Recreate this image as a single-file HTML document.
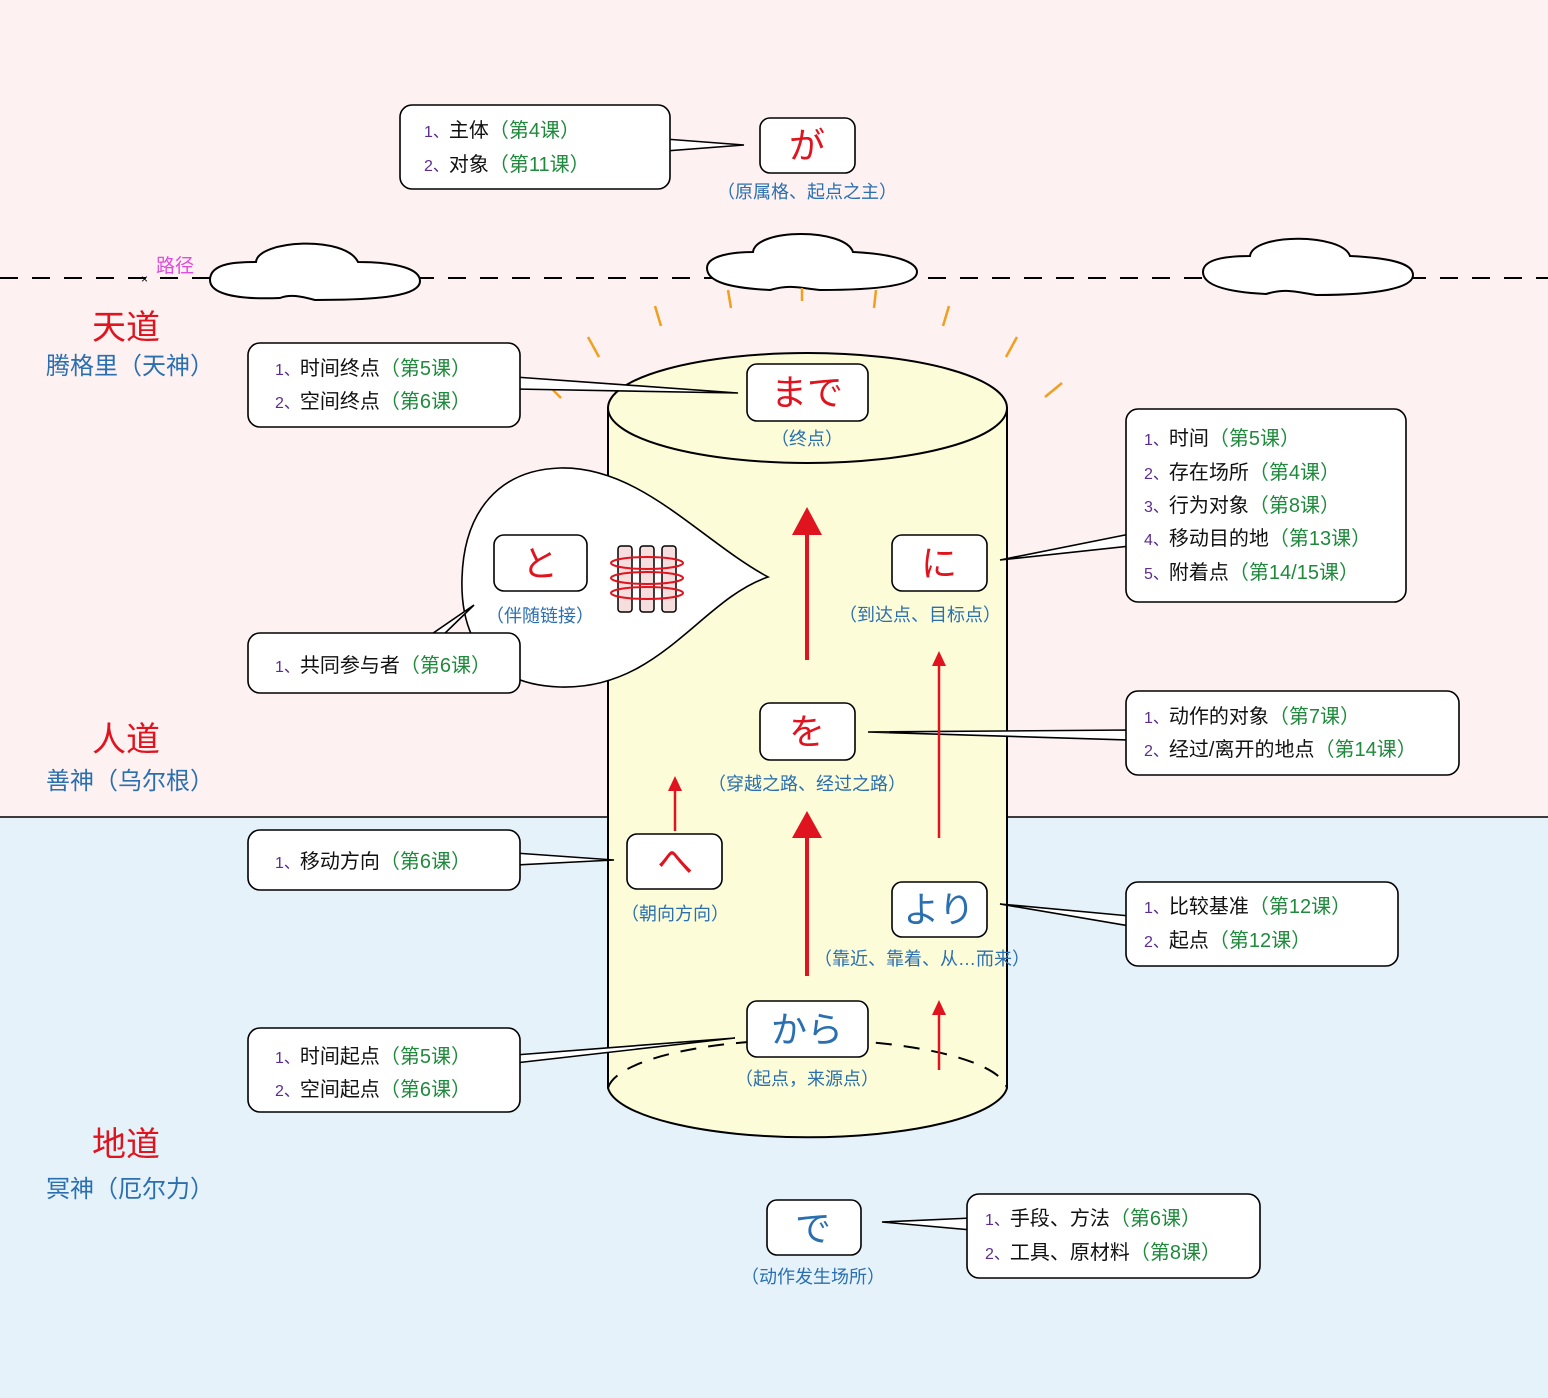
<!DOCTYPE html>
<html><head><meta charset="utf-8"><style>
html,body{margin:0;padding:0;}
svg{display:block;}
text{font-family:"Liberation Sans","Noto Sans CJK SC",sans-serif;}
.n{fill:#5b2d8e;font-size:16px}
.t{fill:#111;font-size:20px}
.g{fill:#1f8a3c;font-size:20px}
.lb{fill:#2a6fb0;font-size:18px}
.box{fill:#fff;stroke:#000;stroke-width:1.6}
</style></head><body>
<svg width="1548" height="1398" viewBox="0 0 1548 1398" xmlns="http://www.w3.org/2000/svg">
<rect x="0" y="0" width="1548" height="817" fill="#fdf1f1"/>
<rect x="0" y="817" width="1548" height="581" fill="#e5f2fa"/>
<line x1="0" y1="817" x2="1548" y2="817" stroke="#000" stroke-width="1.5"/>
<!-- dashed path -->
<line x1="0" y1="278" x2="1548" y2="278" stroke="#000" stroke-width="2" stroke-dasharray="18,14"/>
<text x="141" y="283" font-size="12" fill="#000">×</text>
<text x="156" y="272" font-size="19" fill="#e04ce0">路径</text>
<!-- clouds -->
<g fill="#fff" stroke="#000" stroke-width="2">
<path d="M210,280 C210,262 240,262 256,262 C258,240 345,235 358,262 C400,262 420,270 420,281 C420,296 380,300 315,300 C300,296 290,294 280,298 C230,300 210,292 210,280Z"/>
<path d="M707,268 C707,255 735,252 753,252 C756,228 845,228 853,252 C895,254 917,262 917,272 C917,285 880,290 820,290 C800,288 790,284 770,290 C730,288 707,282 707,268Z"/>
<path d="M1203,272 C1203,258 1230,256 1250,256 C1253,233 1342,233 1350,256 C1393,258 1413,264 1413,275 C1413,288 1378,295 1316,295 C1296,292 1286,288 1266,294 C1226,292 1203,285 1203,272Z"/>
</g>
<!-- rays -->
<g stroke="#f0a020" stroke-width="2.5">
<line x1="553" y1="390" x2="561" y2="398"/>
<line x1="588" y1="337" x2="599" y2="357"/>
<line x1="655" y1="306" x2="661" y2="326"/>
<line x1="728" y1="290" x2="731" y2="308"/>
<line x1="802" y1="288" x2="802" y2="301"/>
<line x1="876" y1="290" x2="874" y2="308"/>
<line x1="949" y1="306" x2="943" y2="326"/>
<line x1="1017" y1="337" x2="1006" y2="357"/>
<line x1="1062" y1="383" x2="1045" y2="397"/>
</g>
<!-- side labels -->
<text x="126" y="339" text-anchor="middle" font-size="34" fill="#e0141e">天道</text>
<text x="130" y="374" text-anchor="middle" font-size="24" fill="#2a6fb0">腾格里（天神）</text>
<text x="126" y="751" text-anchor="middle" font-size="34" fill="#e0141e">人道</text>
<text x="130" y="789" text-anchor="middle" font-size="24" fill="#2a6fb0">善神（乌尔根）</text>
<text x="126" y="1156" text-anchor="middle" font-size="34" fill="#e0141e">地道</text>
<text x="130" y="1197" text-anchor="middle" font-size="24" fill="#2a6fb0">冥神（厄尔力）</text>
<!-- cylinder -->
<path d="M608,408 L608,1088 A200,53 0 0 0 1007,1088 L1007,408 Z" fill="#fdfcd9" stroke="#000" stroke-width="2"/>
<ellipse cx="807.5" cy="408" rx="199.5" ry="55" fill="#fdfcd9" stroke="#000" stroke-width="2"/>
<path d="M608,1088 A200,52 0 0 1 1007,1088" fill="none" stroke="#000" stroke-width="2" stroke-dasharray="16,12"/>
<!-- to bubble -->
<path d="M560,468 C640,466 700,540 768,577 C700,600 660,690 560,687 C490,685 460,640 462,578 C464,510 500,470 560,468Z" fill="#fff" stroke="#000" stroke-width="1.6"/>
<!-- callout tails -->
<g class="box">
<polygon points="665,139 744,145 665,151"/>
<polygon points="515,377 738,393 515,389"/>
<polygon points="1130,534 1000,560 1130,546"/>
<polygon points="1130,730 868,732 1130,740"/>
<polygon points="515,853 614,860 515,865"/>
<polygon points="1130,916 1000,904 1130,926"/>
<polygon points="515,1055 735,1038 515,1063"/>
<polygon points="972,1218 882,1222 972,1230"/>
<polygon points="426,638 474,605 440,638"/>
</g>
<!-- lists -->
<rect class="box" x="400" y="105" width="270" height="84" rx="12"/>
<text x="424" y="137"><tspan class="n">1、</tspan><tspan class="t">主体</tspan><tspan class="g">（第4课）</tspan></text>
<text x="424" y="171"><tspan class="n">2、</tspan><tspan class="t">对象</tspan><tspan class="g">（第11课）</tspan></text>

<rect class="box" x="248" y="343" width="272" height="84" rx="12"/>
<text x="275" y="375"><tspan class="n">1、</tspan><tspan class="t">时间终点</tspan><tspan class="g">（第5课）</tspan></text>
<text x="275" y="408"><tspan class="n">2、</tspan><tspan class="t">空间终点</tspan><tspan class="g">（第6课）</tspan></text>

<rect class="box" x="1126" y="409" width="280" height="193" rx="12"/>
<text x="1144" y="445"><tspan class="n">1、</tspan><tspan class="t">时间</tspan><tspan class="g">（第5课）</tspan></text>
<text x="1144" y="479"><tspan class="n">2、</tspan><tspan class="t">存在场所</tspan><tspan class="g">（第4课）</tspan></text>
<text x="1144" y="512"><tspan class="n">3、</tspan><tspan class="t">行为对象</tspan><tspan class="g">（第8课）</tspan></text>
<text x="1144" y="545"><tspan class="n">4、</tspan><tspan class="t">移动目的地</tspan><tspan class="g">（第13课）</tspan></text>
<text x="1144" y="579"><tspan class="n">5、</tspan><tspan class="t">附着点</tspan><tspan class="g">（第14/15课）</tspan></text>

<rect class="box" x="248" y="633" width="272" height="60" rx="12"/>
<text x="275" y="672"><tspan class="n">1、</tspan><tspan class="t">共同参与者</tspan><tspan class="g">（第6课）</tspan></text>

<rect class="box" x="1126" y="691" width="333" height="84" rx="12"/>
<text x="1144" y="723"><tspan class="n">1、</tspan><tspan class="t">动作的对象</tspan><tspan class="g">（第7课）</tspan></text>
<text x="1144" y="756"><tspan class="n">2、</tspan><tspan class="t">经过/离开的地点</tspan><tspan class="g">（第14课）</tspan></text>

<rect class="box" x="248" y="830" width="272" height="60" rx="12"/>
<text x="275" y="868"><tspan class="n">1、</tspan><tspan class="t">移动方向</tspan><tspan class="g">（第6课）</tspan></text>

<rect class="box" x="1126" y="882" width="272" height="84" rx="12"/>
<text x="1144" y="913"><tspan class="n">1、</tspan><tspan class="t">比较基准</tspan><tspan class="g">（第12课）</tspan></text>
<text x="1144" y="947"><tspan class="n">2、</tspan><tspan class="t">起点</tspan><tspan class="g">（第12课）</tspan></text>

<rect class="box" x="248" y="1028" width="272" height="84" rx="12"/>
<text x="275" y="1063"><tspan class="n">1、</tspan><tspan class="t">时间起点</tspan><tspan class="g">（第5课）</tspan></text>
<text x="275" y="1096"><tspan class="n">2、</tspan><tspan class="t">空间起点</tspan><tspan class="g">（第6课）</tspan></text>

<rect class="box" x="967" y="1194" width="293" height="84" rx="12"/>
<text x="985" y="1225"><tspan class="n">1、</tspan><tspan class="t">手段、方法</tspan><tspan class="g">（第6课）</tspan></text>
<text x="985" y="1259"><tspan class="n">2、</tspan><tspan class="t">工具、原材料</tspan><tspan class="g">（第8课）</tspan></text>

<!-- arrows -->
<g fill="#e0141e" stroke="#e0141e">
<line x1="807" y1="660" x2="807" y2="530" stroke-width="4"/>
<polygon points="807,507 792,535 822,535" stroke="none"/>
<line x1="807" y1="976" x2="807" y2="833" stroke-width="4"/>
<polygon points="807,811 792,838 822,838" stroke="none"/>
<line x1="675" y1="831" x2="675" y2="788" stroke-width="2.5"/>
<polygon points="675,776 668,791 682,791" stroke="none"/>
<line x1="939" y1="838" x2="939" y2="662" stroke-width="2.5"/>
<polygon points="939,651 932,666 946,666" stroke="none"/>
<line x1="939" y1="1070" x2="939" y2="1012" stroke-width="2.5"/>
<polygon points="939,1000 932,1015 946,1015" stroke="none"/>
</g>
<!-- particle boxes -->
<rect class="box" x="760" y="118" width="95" height="55" rx="10"/>
<text x="807" y="158" text-anchor="middle" font-size="36" fill="#e0141e">が</text>
<text x="807" y="198" text-anchor="middle" class="lb">（原属格、起点之主）</text>

<rect class="box" x="747" y="364" width="121" height="57" rx="10"/>
<text x="807" y="405" text-anchor="middle" font-size="36" fill="#e0141e">まで</text>
<text x="807" y="445" text-anchor="middle" class="lb">（终点）</text>

<rect class="box" x="494" y="535" width="93" height="56" rx="10"/>
<text x="540" y="576" text-anchor="middle" font-size="36" fill="#e0141e">と</text>
<text x="540" y="622" text-anchor="middle" class="lb">（伴随链接）</text>
<!-- three little cylinders -->
<g stroke="#000" stroke-width="1.5" fill="#f6dede">
<rect x="618" y="546" width="14" height="66" rx="3"/>
<rect x="640" y="546" width="14" height="66" rx="3"/>
<rect x="662" y="546" width="14" height="66" rx="3"/>
</g>
<g fill="none" stroke="#e0141e" stroke-width="2">
<ellipse cx="647" cy="563" rx="36" ry="6"/>
<ellipse cx="647" cy="578" rx="36" ry="6"/>
<ellipse cx="647" cy="593" rx="36" ry="6"/>
</g>

<rect class="box" x="892" y="535" width="95" height="56" rx="10"/>
<text x="939" y="576" text-anchor="middle" font-size="36" fill="#e0141e">に</text>
<text x="920" y="621" text-anchor="middle" class="lb">（到达点、目标点）</text>

<rect class="box" x="760" y="703" width="95" height="57" rx="10"/>
<text x="807" y="744" text-anchor="middle" font-size="36" fill="#e0141e">を</text>
<text x="807" y="790" text-anchor="middle" class="lb">（穿越之路、经过之路）</text>

<rect class="box" x="627" y="834" width="95" height="55" rx="10"/>
<text x="675" y="874" text-anchor="middle" font-size="36" fill="#e0141e">へ</text>
<text x="675" y="920" text-anchor="middle" class="lb">（朝向方向）</text>

<rect class="box" x="892" y="882" width="95" height="55" rx="10"/>
<text x="939" y="922" text-anchor="middle" font-size="36" fill="#2a6fb0">より</text>
<text x="922" y="965" text-anchor="middle" class="lb">（靠近、靠着、从…而来）</text>

<rect class="box" x="747" y="1001" width="121" height="56" rx="10"/>
<text x="807" y="1042" text-anchor="middle" font-size="36" fill="#2a6fb0">から</text>
<text x="807" y="1085" text-anchor="middle" class="lb">（起点，来源点）</text>

<rect class="box" x="767" y="1200" width="94" height="55" rx="10"/>
<text x="813" y="1241" text-anchor="middle" font-size="36" fill="#2a6fb0">で</text>
<text x="813" y="1283" text-anchor="middle" class="lb">（动作发生场所）</text>
</svg>
</body></html>
